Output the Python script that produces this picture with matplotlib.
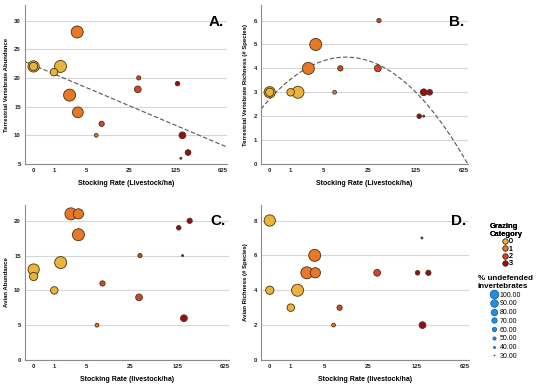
import numpy as np
import matplotlib
matplotlib.use("Agg")
import matplotlib.pyplot as plt
from matplotlib.lines import Line2D

plt.rcParams['font.family'] = ['Liberation Sans', 'DejaVu Sans']

# tick labels on the stocking-rate axis (axis is log5(rate + 1))
rate_ticks = [0, 1, 5, 25, 125, 625]

# panel A: terrestrial vertebrate abundance
a_rate = [0, 0, 1, 1.5, 3.4, 2.4, 3.5, 7.4, 9.1, 34.6, 33.5, 132, 156, 189, 148]
a_val = [22, 22, 21, 22, 28, 17, 14, 10, 12, 20, 18, 19, 10, 7, 6]
a_cat = [0, 0, 0, 0, 1, 1, 1, 1, 2, 2, 2, 3, 3, 3, 3]
a_pct = [95, 75, 70, 100, 100, 100, 92, 45, 55, 48, 65, 50, 65, 58, 33]

# panel B: terrestrial vertebrate richness
b_rate = [0, 0, 1, 1.55, 3.6, 2.6, 7.6, 9.4, 36.4, 35, 164, 200, 141, 164]
b_val = [3, 3, 3, 3, 5, 4, 3, 4, 6, 4, 3, 3, 2, 2]
b_cat = [0, 0, 0, 0, 1, 1, 1, 2, 2, 2, 3, 3, 3, 3]
b_pct = [95, 75, 70, 100, 100, 100, 45, 55, 48, 65, 65, 58, 50, 33]

# panel C: avian abundance
c_rate = [0, 0, 1.48, 1, 2.5, 3.5, 3.5, 7.4, 9.1, 34.6, 33.5, 130, 188, 148, 155]
c_val = [13, 12, 14, 10, 21, 21, 18, 5, 11, 15, 9, 19, 20, 15, 6]
c_cat = [0, 0, 0, 0, 1, 1, 1, 1, 2, 2, 2, 3, 3, 3, 3]
c_pct = [95, 75, 100, 70, 100, 88, 100, 45, 55, 48, 65, 50, 55, 33, 65]

# panel D: avian richness
d_rate = [0, 0, 1.5, 1, 3.4, 2.4, 3.5, 7.2, 9.0, 33.5, 130, 186, 150, 153]
d_val = [8, 4, 4, 3, 6, 5, 5, 2, 3, 5, 5, 5, 7, 2]
d_cat = [0, 0, 0, 0, 1, 1, 1, 1, 2, 2, 3, 3, 3, 3]
d_pct = [95, 75, 100, 70, 100, 100, 88, 45, 55, 65, 50, 55, 33, 65]

# fitted lines (in log5(rate+1) units)
fit_a = [22.2, -3.49]            # intercept, slope
fit_b = [2.72, 2.23, -0.71]      # c0, c1, c2

cat_colors = ['#E9B43C', '#E8772A', '#D2452C', '#960C1C']
legend_pcts = [100, 90, 80, 70, 60, 50, 40, 30]


def tx(r):
    return np.log(np.asarray(r, dtype=float) + 1) / np.log(5)


def bubble(p):
    d_px = 1.5 + (np.asarray(p, dtype=float) - 30) / 70 * 10.5
    return (d_px * 0.72) ** 2


fig = plt.figure(figsize=(5.5, 3.85), dpi=100)
boxes = [[0.0455, 0.574, 0.367, 0.413], [0.4745, 0.574, 0.376, 0.413],
         [0.0455, 0.065, 0.371, 0.403], [0.4745, 0.065, 0.378, 0.403]]
panels = [
    (a_rate, a_val, a_cat, a_pct, 'Terrestrial Vertebrate Abundance', 'Stocking Rate (Livestock/ha)', 'A.', (5, 32.7), [5, 10, 15, 20, 25, 30]),
    (b_rate, b_val, b_cat, b_pct, 'Terrestrial Vertebrate Richness (# Species)', 'Stocking Rate (Livestock/ha)', 'B.', (0, 6.65), [0, 1, 2, 3, 4, 5, 6]),
    (c_rate, c_val, c_cat, c_pct, 'Avian Abundance', 'Stocking Rate (livestock/ha)', 'C.', (0, 22.3), [0, 5, 10, 15, 20]),
    (d_rate, d_val, d_cat, d_pct, 'Avian Richness (# Species)', 'Stocking Rate (livestock/ha)', 'D.', (0, 8.9), [0, 2, 4, 6, 8]),
]

axes = []
for box, (r, v, c, p, ylab, xlab, tag, ylim, yt) in zip(boxes, panels):
    ax = fig.add_axes(box)
    axes.append(ax)
    cols = [cat_colors[k] for k in c]
    order = np.argsort(-np.asarray(p))
    ax.scatter(tx(r)[order], np.asarray(v)[order], s=bubble(p)[order],
               c=[cols[i] for i in order], edgecolors='#4a3210', linewidths=0.6, zorder=3)
    ax.set_xlim(-0.18, 4.08)
    ax.set_ylim(*ylim)
    ax.set_xticks(tx(rate_ticks))
    ax.set_xticklabels([str(t) for t in rate_ticks])
    ax.set_yticks(yt)
    ax.yaxis.grid(True, color='#d6d6d6', lw=0.8)
    ax.set_axisbelow(True)
    for s in ['top', 'right']:
        ax.spines[s].set_visible(False)
    for s in ['left', 'bottom']:
        ax.spines[s].set_color('#8a8a8a')
        ax.spines[s].set_linewidth(0.8)
    ax.tick_params(labelsize=4.3, length=0, pad=3, colors='#222222')
    for lab in ax.get_xticklabels() + ax.get_yticklabels():
        lab.set_fontweight('bold')
    ax.set_ylabel(ylab, fontsize=4.3, fontweight='bold', labelpad=4)
    ax.set_xlabel(xlab, fontsize=5, fontweight='bold', labelpad=5)
    ax.text(0.985, 0.94, tag, transform=ax.transAxes, ha='right', va='top',
            fontsize=11, fontweight='bold')

xs = np.linspace(-0.18, 4.08, 200)
axes[0].plot(xs, fit_a[0] + fit_a[1] * xs, color='#555555', lw=0.8, ls=(0, (4, 2)), zorder=2)
axes[1].plot(xs, fit_b[0] + fit_b[1] * xs + fit_b[2] * xs ** 2, color='#555555', lw=0.8,
             ls=(0, (4, 2)), zorder=2)

# legends
h1 = [Line2D([], [], ls='none', marker='o', ms=3.8, mfc=col, mec='#4a3210', mew=0.5)
      for col in cat_colors]
leg1 = fig.legend(h1, ['0', '1', '2', '3'], title='Grazing\nCategory', loc='upper left',
                  bbox_to_anchor=(0.885, 0.43), frameon=False, fontsize=5,
                  handletextpad=0.0, labelspacing=0.05, borderpad=0, handlelength=1.2)
leg1.get_title().set_fontsize(5.5)
leg1.get_title().set_fontweight('bold')
leg1._legend_box.align = 'center'

h2 = [Line2D([], [], ls='none', marker='o',
             ms=0.72 * (1 + (q - 30) / 70 * 7.7), mfc='#1E90E8', mec='#1a4f80', mew=0.5)
      for q in legend_pcts]
leg2 = fig.legend(h2, ['%.2f' % q for q in legend_pcts], title='% undefended\ninvertebrates',
                  loc='upper left', bbox_to_anchor=(0.862, 0.295), frameon=False, fontsize=5,
                  handletextpad=0.2, labelspacing=0.25, borderpad=0, handlelength=1.4)
leg2.get_title().set_fontsize(5.8)
leg2.get_title().set_fontweight('bold')
leg2._legend_box.align = 'center'
fig.add_artist(leg1)

fig.savefig('out.png', dpi=100)
